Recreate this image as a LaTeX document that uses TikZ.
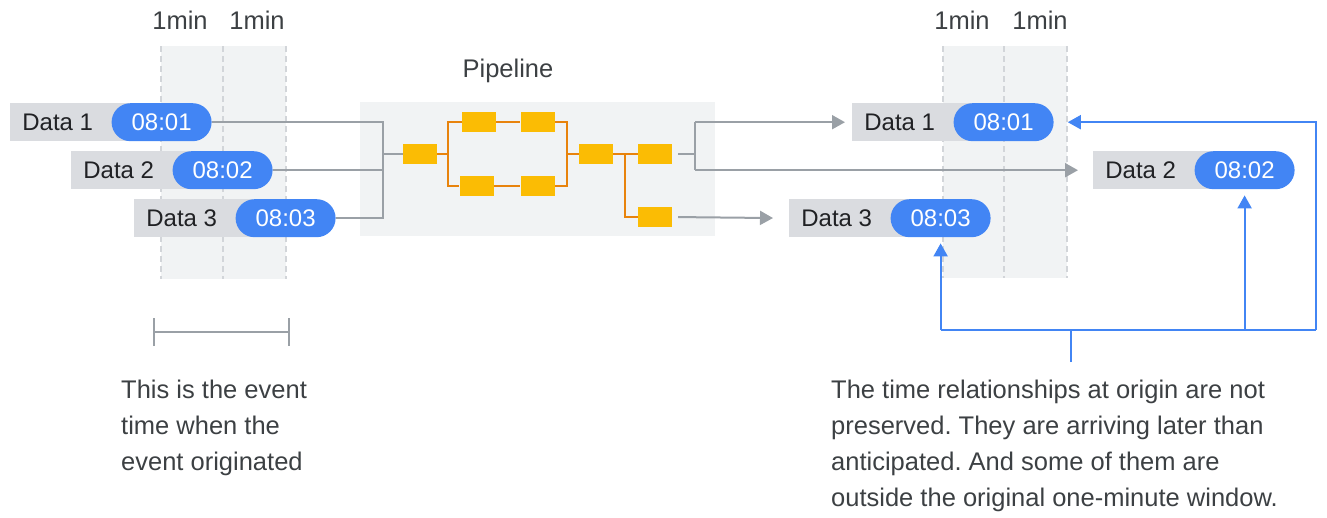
\documentclass[tikz,border=0pt]{standalone}
\usepackage{fontspec}
\setmainfont{Liberation Sans}
\usetikzlibrary{arrows.meta}
\usetikzlibrary{positioning}
\definecolor{lblgray}{HTML}{DADCE0}
\definecolor{bandgray}{HTML}{F1F3F4}
\definecolor{dashgray}{HTML}{D2D5D9}
\definecolor{linegray}{HTML}{9AA0A6}
\definecolor{gblue}{HTML}{4285F4}
\definecolor{gyellow}{HTML}{FBBC04}
\definecolor{gorange}{HTML}{E8830C}
\definecolor{txtdark}{HTML}{202124}
\definecolor{txtsoft}{HTML}{3C4043}
\frenchspacing

\begin{document}
\begin{tikzpicture}[x=1pt,y=-1pt,
	every node/.style={font=\fontsize{24}{36}\selectfont,inner sep=0pt},
	datalbl/.style={fill=lblgray,text=txtdark,minimum width=95pt,minimum height=38pt,anchor=north west},
	timepill/.style={fill=gblue,text=white,rounded corners=19pt,minimum width=100pt,minimum height=38pt},
	stage/.style={fill=gyellow,minimum width=34pt,minimum height=20pt},
	band/.style={fill=bandgray},
	winline/.style={dashgray,line width=2pt,dash pattern=on 6pt off 4pt},
	gline/.style={linegray,line width=2pt},
	garrow/.style={gline,-{Triangle[length=13pt,width=14pt]}},
	oline/.style={gorange,line width=2pt},
	bline/.style={gblue,line width=2pt},
	barrow/.style={bline,-{Triangle[length=13pt,width=14pt]}},
	headtxt/.style={text=txtsoft,font=\fontsize{25.5}{30}\selectfont},
	caption/.style={text=txtsoft,align=left,anchor=base west,font=\fontsize{25.5}{36}\selectfont}]
	\useasboundingbox (0,0) rectangle (1327,517);

	% one-minute windows
	\fill[band] (161,46) rectangle (286,279);
	\fill[band] (943,46) rectangle (1067,278);
	\draw[winline] (161,46) -- (161,279);
	\draw[winline] (223,46) -- (223,279);
	\draw[winline] (286,46) -- (286,279);
	\draw[winline] (943,46) -- (943,278);
	\draw[winline] (1004,46) -- (1004,278);
	\draw[winline] (1067,46) -- (1067,278);
	\node[headtxt] (mina) at (180,20) {1min};
	\node[headtxt] (minb) at (257,20) {1min};
	\node[headtxt] (minc) at (962,20) {1min};
	\node[headtxt] (mind) at (1040,20) {1min};

	% pipeline
	\node[band,minimum width=355pt,minimum height=134pt] (pipe) at (537.5,169) {};
	\node[headtxt] (pipetxt) at (508,71) {Pipeline};
	\node[stage] (s1) at (420,154) {};
	\node[stage] (s2) at (479,122) {};
	\node[stage] (s3) at (537.5,122) {};
	\node[stage] (s4) at (476.5,186) {};
	\node[stage] (s5) at (537.5,186) {};
	\node[stage] (s6) at (596,154) {};
	\node[stage] (s7) at (655,154) {};
	\node[stage] (s8) at (655,217) {};
	\coordinate (ja) at (448,122);
	\coordinate (jb) at (567,122);
	\coordinate (jc) at (625,154);
	\draw[oline] (s2.west) -- (ja) |- (s4.west);
	\draw[oline] (s1.east) -- (s1.east -| ja);
	\draw[oline] (s2) -- (s3);
	\draw[oline] (s4) -- (s5);
	\draw[oline] (s3.east) -- (jb) |- (s5.east);
	\draw[oline] (jb |- s6) -- (s6.west);
	\draw[oline] (s6) -- (s7);
	\draw[oline] (jc) |- (s8.west);

	% events at origin
	\node[datalbl] (g1) at (10,103) {Data 1};
	\fill[lblgray] (g1.north east) rectangle ([xshift=26pt]g1.south east);
	\node[timepill,right=6pt of g1] (t1) {08:01};
	\node[datalbl] (g2) at (71,151) {Data 2};
	\fill[lblgray] (g2.north east) rectangle ([xshift=26pt]g2.south east);
	\node[timepill,right=6pt of g2] (t2) {08:02};
	\node[datalbl] (g3) at (134,199) {Data 3};
	\fill[lblgray] (g3.north east) rectangle ([xshift=26pt]g3.south east);
	\node[timepill,right=6pt of g3] (t3) {08:03};

	% events on arrival
	\node[datalbl] (g4) at (852,103) {Data 1};
	\fill[lblgray] (g4.north east) rectangle ([xshift=26pt]g4.south east);
	\node[timepill,right=6pt of g4] (t4) {08:01};
	\node[datalbl] (g5) at (1093,151) {Data 2};
	\fill[lblgray] (g5.north east) rectangle ([xshift=26pt]g5.south east);
	\node[timepill,right=6pt of g5] (t5) {08:02};
	\node[datalbl] (g6) at (789,199) {Data 3};
	\fill[lblgray] (g6.north east) rectangle ([xshift=26pt]g6.south east);
	\node[timepill,right=6pt of g6] (t6) {08:03};

	% into the pipeline
	\coordinate (mx) at (383,0);
	\draw[gline] (t1.east) -| (mx |- t3.east) -- (t3.east);
	\draw[gline] (t2.east) -- (t2.east -| mx);
	\draw[gline] (mx |- s1) -- (s1.west);

	% out of the pipeline
	\coordinate (nx) at (695,0);
	\draw[gline,shorten <=6pt] (s7.east) -- (s7.east -| nx);
	\draw[gline] (nx |- g4) -- (nx |- g5);
	\draw[garrow,shorten >=7pt] (nx |- g4) -- (g4.west);
	\draw[garrow,shorten >=15pt] (nx |- g5) -- (g5.west);
	\draw[garrow,shorten <=6pt,shorten >=16pt] (s8.east) -- (g6.west);

	% late arrivals
	\coordinate (bx) at (1071,362);
	\coordinate (by) at (1316,330);
	\draw[bline] (bx) -- (bx |- by);
	\draw[bline] (t6.south |- by) -- (by);
	\draw[barrow,shorten >=14pt] (by) |- (t4.east);
	\draw[barrow,shorten >=6pt] (t6.south |- by) -- (t6.south);
	\draw[barrow,shorten >=6pt] (t5.south |- by) -- (t5.south);

	% event time span
	\draw[gline,{Bar[width=28pt]}-{Bar[width=28pt]}] (153,332) -- (290,332);

	\node[caption] (evtxt) at (121,470) {This is the event\\time when the\\event originated};
	\node[caption] (reltxt) at (831,506) {The time relationships at origin are not\\preserved. They are arriving later than\\anticipated. And some of them are\\outside the original one-minute window.};
\end{tikzpicture}
\end{document}
